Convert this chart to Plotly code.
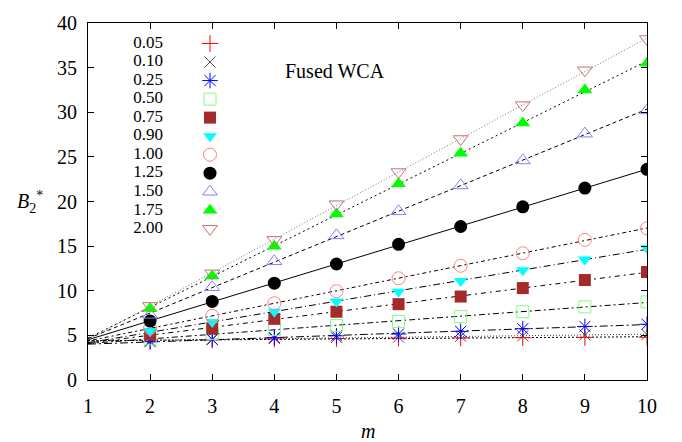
import numpy as np
import plotly.graph_objects as go

# Chain length m and second virial coefficient B2* for each bond length
m = [2, 3, 4, 5, 6, 7, 8, 9, 10]
bond_labels = ["0.05", "0.10", "0.25", "0.50", "0.75", "0.90",
               "1.00", "1.25", "1.50", "1.75", "2.00"]

b2_005 = [4.35, 4.5, 4.6, 4.65, 4.7, 4.72, 4.75, 4.77, 4.8]
b2_010 = [4.4, 4.55, 4.65, 4.75, 4.8, 4.9, 4.95, 5.05, 5.1]
b2_025 = [4.3, 4.55, 4.75, 4.95, 5.15, 5.45, 5.75, 6.0, 6.25]
b2_050 = [4.6, 5.2, 5.65, 6.1, 6.55, 7.1, 7.65, 8.2, 8.75]
b2_075 = [5.1, 5.8, 6.85, 7.65, 8.5, 9.35, 10.3, 11.2, 12.1]
b2_090 = [5.45, 6.5, 7.65, 8.8, 9.9, 11.1, 12.3, 13.5, 14.75]
b2_100 = [5.8, 7.2, 8.6, 9.95, 11.4, 12.8, 14.2, 15.7, 17.0]
b2_125 = [6.6, 8.8, 10.85, 13.0, 15.2, 17.2, 19.4, 21.5, 23.6]
b2_150 = [7.3, 10.4, 13.3, 16.2, 18.9, 21.8, 24.6, 27.6, 30.2]
b2_175 = [8.0, 11.65, 15.0, 18.6, 22.0, 25.4, 28.8, 32.5, 35.5]
b2_200 = [8.3, 11.95, 15.7, 19.7, 23.3, 27.0, 30.8, 34.7, 38.2]

series = [b2_005, b2_010, b2_025, b2_050, b2_075, b2_090,
          b2_100, b2_125, b2_150, b2_175, b2_200]

x_ticks = [1, 2, 3, 4, 5, 6, 7, 8, 9, 10]
y_ticks = [0, 5, 10, 15, 20, 25, 30, 35, 40]

# Point styles per bond length
symbols = ["cross-thin-open", "x-thin-open", "asterisk-open", "square-open",
           "square", "triangle-down", "circle-open", "circle",
           "triangle-up-open", "triangle-up", "triangle-down-open"]
colors = ["#ff0000", "#505050", "#0000ff", "#80ff80", "#a52a2a", "#00ffff",
          "#ff8080", "#000000", "#8080ff", "#00ff00", "#c87070"]
sizes = [12, 11, 13, 12, 12, 12, 13, 13, 13, 13, 13]
# Fit-line styles
line_dash = ["2px,2px", "1px,2px", "8px,3px,2px,3px", "6px,3px,2px,3px",
             "2px,4px,5px,4px", "7px,3px,1px,3px", "2px,3px,4px,3px",
             "solid", "4px,3px", "2px,3px", "1px,2px"]
line_color = ["#000000", "#333333", "#000000", "#000000", "#000000", "#000000",
              "#000000", "#000000", "#000000", "#000000", "#777777"]

FONT = "Liberation Serif"
W, H = 682, 442
ML, MR, MT, MB = 88, 35, 14, 62
PW, PH = W - ML - MR, H - MT - MB

fig = go.Figure()

# Linear fits drawn over m = 1..10
x_fit = np.array([1.0, 10.0])
for i, y in enumerate(series):
    slope, icpt = np.polyfit(m, y, 1)
    fig.add_trace(go.Scatter(
        x=x_fit, y=slope * x_fit + icpt, mode="lines",
        line=dict(color=line_color[i], width=1, dash=line_dash[i]),
        showlegend=False, hoverinfo="skip"))

# Data points
for i, y in enumerate(series):
    filled = not symbols[i].endswith("open")
    fig.add_trace(go.Scatter(
        x=m, y=y, mode="markers", name=bond_labels[i],
        marker=dict(symbol=symbols[i], size=sizes[i],
                    color=colors[i],
                    line=dict(color=colors[i], width=0 if filled else 1)),
        showlegend=False))

# Key: labels on the left, point samples on the right (pixel-based overlay axes)
key_top, key_step = 380 - 35, 19
key_text_x, key_mark_x = 163 - ML, 210 - ML
key_y = [key_top - i * key_step for i in range(len(bond_labels))]
for i, lab in enumerate(bond_labels):
    filled = not symbols[i].endswith("open")
    fig.add_trace(go.Scatter(
        x=[key_mark_x], y=[key_y[i]], xaxis="x2", yaxis="y2", mode="markers",
        marker=dict(symbol=symbols[i], size=sizes[i], color=colors[i],
                    line=dict(color=colors[i], width=0 if filled else 1)),
        showlegend=False, hoverinfo="skip"))
fig.add_trace(go.Scatter(
    x=[key_text_x] * len(bond_labels), y=key_y, xaxis="x2", yaxis="y2",
    mode="text", text=bond_labels, textposition="middle left",
    textfont=dict(family=FONT, size=17, color="black"),
    showlegend=False, hoverinfo="skip"))

fig.add_annotation(x=335 - ML, y=380 - 63, xref="x2", yref="y2",
                   text="Fused WCA", showarrow=False, xanchor="center",
                   yanchor="middle", font=dict(family=FONT, size=20, color="black"))

# Axis titles
fig.add_annotation(x=(368 - ML) / PW, y=-(432 - 380) / PH, xref="paper", yref="paper",
                   text="<i>m</i>", showarrow=False, xanchor="center", yanchor="middle",
                   font=dict(family=FONT, size=20, color="black"))
fig.add_annotation(x=(30 - ML) / PW, y=(380 - 197) / PH, xref="paper", yref="paper",
                   text="<i>B</i><sub>2</sub><sup>*</sup>", showarrow=False,
                   xanchor="center", yanchor="middle",
                   font=dict(family=FONT, size=20, color="black"))

axis_common = dict(showgrid=False, zeroline=False, showline=True, linecolor="black",
                   linewidth=1, mirror="ticks", ticks="inside", ticklen=6,
                   tickcolor="black", tickwidth=1,
                   tickfont=dict(family=FONT, size=20, color="black"))

fig.update_layout(
    width=W, height=H,
    margin=dict(l=ML, r=MR, t=MT, b=MB),
    paper_bgcolor="white", plot_bgcolor="white",
    showlegend=False,
    xaxis=dict(range=[1, 10], tickvals=x_ticks, ticklabelstandoff=8, **axis_common),
    yaxis=dict(range=[0, 40], tickvals=y_ticks, ticklabelstandoff=6, **axis_common),
    xaxis2=dict(range=[0, PW], overlaying="x", anchor="y2", visible=False),
    yaxis2=dict(range=[0, PH], overlaying="y", anchor="x2", visible=False),
)

fig.write_html("out.html")
